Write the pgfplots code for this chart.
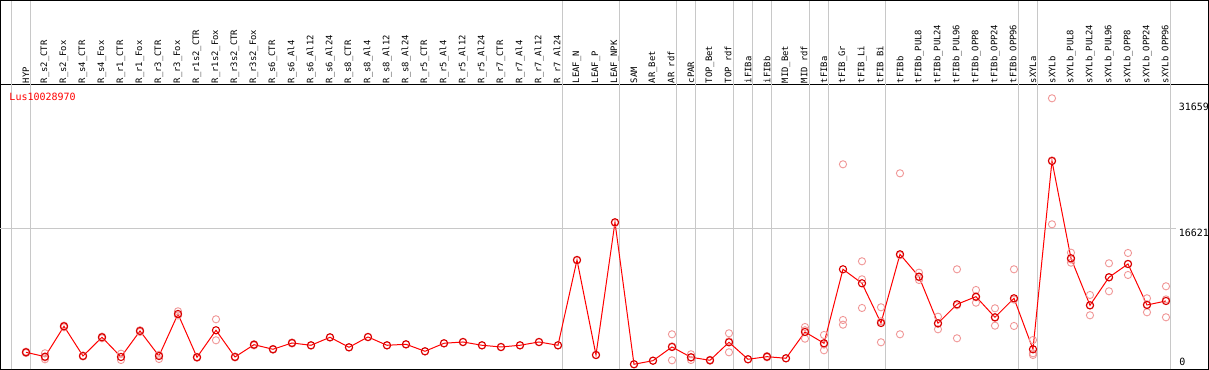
\documentclass[border=0pt]{standalone}
\usepackage{pgfplots}
\pgfplotsset{compat=1.18}
\usepackage{pgfplotstable}
\usepackage{fontspec}
\newfontfamily\labfont{DejaVu Sans Mono}
\definecolor{rep}{RGB}{240,150,150}
\definecolor{gridg}{RGB}{200,200,200}
\definecolor{meanred}{RGB}{255,0,0}

\pgfplotstableread{
x y
0 1941
1 1420
2 5019
3 1503
4 3717
5 1385
6 4463
7 1503
8 6475
9 1350
10 4546
11 1385
12 2841
13 2297
14 3042
15 2770
16 3717
17 2533
18 3753
19 2770
20 2888
21 2060
22 3007
23 3161
24 2770
25 2569
26 2770
27 3161
28 2770
29 12868
30 1622
31 17331
32 521
33 947
34 2569
35 1350
36 994
37 3125
38 1113
39 1420
40 1231
41 4345
42 3007
43 11767
44 10110
45 5410
46 13543
47 10891
48 5374
49 7624
50 8524
51 6085
52 8334
53 2297
54 24588
55 13069
56 7505
57 10820
58 12394
59 7541
60 8014
}\meantab

\pgfplotstableread{
x y
0 1850
0 1950
0 2020
1 1823
1 1113
1 1324
2 4900
2 5100
3 1450
3 1560
4 3600
4 3800
5 1776
5 1030
6 4350
6 4550
7 1148
7 1650
8 6795
8 6300
9 1300
9 1400
10 5848
10 3362
11 1330
11 1440
12 2750
12 2900
13 2250
13 2340
14 2980
14 3100
15 2720
16 3680
17 2500
18 3720
19 2740
20 2850
21 2030
22 2980
23 3130
24 2740
25 2540
26 2740
27 3130
28 2740
29 12800
30 1600
31 17250
32 540
33 930
34 4072
34 994
34 2641
35 1705
35 1030
35 1315
36 1050
36 940
37 4190
37 1941
37 3244
38 1113
39 1500
39 1340
40 1231
41 4936
41 3551
41 4548
42 3989
42 2178
42 2854
43 24197
43 5765
43 5209
44 12714
44 10583
44 7186
45 7269
45 3125
45 5611
46 23131
46 4072
46 13426
47 11365
47 10500
47 10808
48 6156
48 4664
48 5302
49 11767
49 3599
49 7506
50 9316
50 7813
50 8443
51 7150
51 5090
51 6015
52 11767
52 5055
52 8180
53 3397
53 1622
53 1823
54 32010
54 17094
54 24660
55 13732
55 12548
55 12927
56 8725
56 6322
56 7468
57 12477
57 9163
57 10820
58 13697
58 11092
58 12393
59 8334
59 6677
59 7612
60 9755
60 6085
60 8202
}\reptab

\begin{document}
\begin{tikzpicture}
\begin{axis}[
  scale only axis,
  width=1208pt, height=284.5pt,
  xmin=-1.342, xmax=62.237,
  ymin=-95, ymax=33585,
  axis line style={black, line width=1pt},
  xtick={0,...,60},
  xticklabels={HYP,R\_s2\_CTR,R\_s2\_Fox,R\_s4\_CTR,R\_s4\_Fox,R\_r1\_CTR,R\_r1\_Fox,R\_r3\_CTR,R\_r3\_Fox,R\_r1s2\_CTR,R\_r1s2\_Fox,R\_r3s2\_CTR,R\_r3s2\_Fox,R\_s6\_CTR,R\_s6\_Al4,R\_s6\_Al12,R\_s6\_Al24,R\_s8\_CTR,R\_s8\_Al4,R\_s8\_Al12,R\_s8\_Al24,R\_r5\_CTR,R\_r5\_Al4,R\_r5\_Al12,R\_r5\_Al24,R\_r7\_CTR,R\_r7\_Al4,R\_r7\_Al12,R\_r7\_Al24,LEAF\_N,LEAF\_P,LEAF\_NPK,SAM,AR\_Bet,AR\_rdf,cPAR,TOP\_Bet,TOP\_rdf,iFIBa,iFIBb,MID\_Bet,MID\_rdf,tFIBa,tFIB\_Gr,tFIB\_Li,tFIB\_Bi,tFIBb,tFIBb\_PUL8,tFIBb\_PUL24,tFIBb\_PUL96,tFIBb\_OPP8,tFIBb\_OPP24,tFIBb\_OPP96,sXYLa,sXYLb,sXYLb\_PUL8,sXYLb\_PUL24,sXYLb\_PUL96,sXYLb\_OPP8,sXYLb\_OPP24,sXYLb\_OPP96},
  xticklabel pos=right,
  major tick length=0pt,
  xticklabel style={rotate=90, anchor=west, font=\labfont\fontsize{8.85}{9}\selectfont, inner sep=1.5pt, text=black},
  ytick=\empty,
  clip=false,
]
% group separator lines
\pgfplotsinvokeforeach{-0.75,0.25,28.25,31.25,34.25,35.25,37.25,38.25,39.25,41.25,42.25,45.25,52.25,53.25,60.25}{
  \draw[gridg, line width=1pt] (axis cs:#1,-95) -- (axis cs:#1,43588);
}
\draw[gridg, line width=1pt] (axis cs:-1.342,16621) -- (axis cs:60.53,16621);
% outer frame over the label band
\draw[black, line width=1pt] (axis cs:-1.342,33585) -- (axis cs:-1.342,43588) -- (axis cs:62.237,43588) -- (axis cs:62.237,33585);

\addplot[only marks, mark=o, mark size=3.6pt, color=rep, mark options={line width=0.9pt}] table[x=x,y=y] {\reptab};
\addplot[meanred, line width=1pt, mark=o, mark size=3.6pt, mark options={line width=1.1pt, solid, draw=meanred!85!black}] table[x=x,y=y] {\meantab};

\node[anchor=north west, inner sep=0pt, text=red, font=\labfont\fontsize{10}{11}\selectfont] at (axis cs:-0.879,32602) {Lus10028970};
\node[anchor=north west, inner sep=0pt, font=\labfont\fontsize{10}{11}\selectfont] at (axis cs:60.67,31454) {31659};
\node[anchor=north west, inner sep=0pt, font=\labfont\fontsize{10}{11}\selectfont] at (axis cs:60.67,16538) {16621};
\node[anchor=north west, inner sep=0pt, font=\labfont\fontsize{10}{11}\selectfont] at (axis cs:60.70,1267) {0};
\end{axis}
\end{tikzpicture}
\end{document}
